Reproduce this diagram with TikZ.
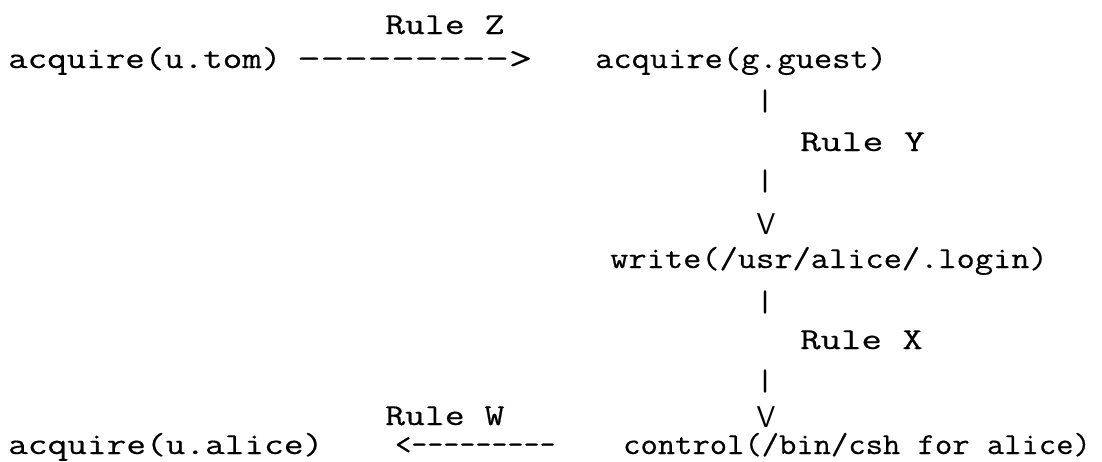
\documentclass[tikz,border=0pt]{standalone}
\usepackage{fontspec}
\setmonofont{Latin Modern Mono}[FakeBold=0.4]
\newcommand\stx[2]{\scalebox{#1}[0.86]{#2}}
\begin{document}
\begin{tikzpicture}[x=1pt,y=-1pt,
  txt/.style={inner sep=0pt, anchor=base west, font=\fontsize{35.4}{40}\selectfont\ttfamily\bfseries},
  bar/.style={inner sep=0pt, anchor=center, font=\fontsize{35.4}{40}\selectfont\ttfamily\bfseries},
  vhead/.style={inner sep=0pt, anchor=base, font=\fontsize{30}{34}\selectfont\sffamily}]
\useasboundingbox (0,0) rectangle (1102,461);
\fill[white] (0,0) rectangle (1102,461);
\node[txt] (rz) at (385,34) {\stx{1.09}{Rule Z}};
\node[txt] (tom) at (8,68) {\stx{1.07}{acquire(u.tom)}};
\node[txt] (az) at (297,68) {\stx{1.29}{--------->}};
\node[txt] (guest) at (595,68) {\stx{1}{acquire(g.guest)}};
\node[bar] (b1) at (765,101) {\scalebox{1}[0.85]{|}};
\node[txt] (ry) at (800,151) {\stx{1.14}{Rule Y}};
\node[bar] (b2) at (765,181) {\scalebox{1}[0.85]{|}};
\node[vhead] (v1) at (766,234) {V};
\node[txt] (login) at (610,268) {\stx{1}{write(/usr/alice/.login)}};
\node[bar] (b3) at (765,302) {\scalebox{1}[0.85]{|}};
\node[txt] (rx) at (800,349) {\stx{1.12}{Rule X}};
\node[bar] (b4) at (765,381) {\scalebox{1}[0.85]{|}};
\node[txt] (rw) at (385,425) {\stx{1.09}{Rule W}};
\node[vhead] (v2) at (766,427) {V};
\node[txt] (alice) at (8,454) {\stx{1.08}{acquire(u.alice)}};
\node[txt] (aw) at (395,454) {\stx{0.88}{<---------}};
\node[txt] (csh) at (623,454) {\stx{0.95}{control(/bin/csh for alice)}};
\end{tikzpicture}
\end{document}
